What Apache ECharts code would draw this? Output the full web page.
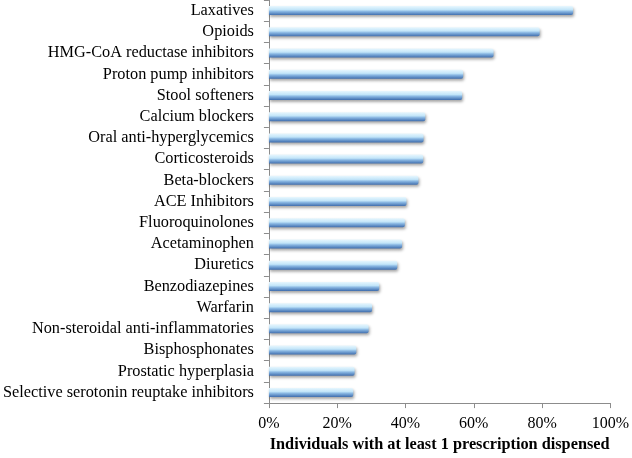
<!DOCTYPE html>
<html>
<head>
<meta charset="utf-8">
<script src="https://cdn.jsdelivr.net/npm/echarts@6/dist/echarts.min.js"></script>
<style>
html,body{margin:0;padding:0;background:#fff;}
#chart{width:632px;height:458px;}
</style>
</head>
<body>
<div id="chart"></div>
<script>
const categories = [
  "Laxatives",
  "Opioids",
  "HMG-CoA reductase inhibitors",
  "Proton pump inhibitors",
  "Stool softeners",
  "Calcium blockers",
  "Oral anti-hyperglycemics",
  "Corticosteroids",
  "Beta-blockers",
  "ACE Inhibitors",
  "Fluoroquinolones",
  "Acetaminophen",
  "Diuretics",
  "Benzodiazepines",
  "Warfarin",
  "Non-steroidal anti-inflammatories",
  "Bisphosphonates",
  "Prostatic hyperplasia",
  "Selective serotonin reuptake inhibitors"
];
const values = [89.1, 79.3, 65.8, 56.9, 56.6, 45.8, 45.3, 45.2, 43.8, 40.3, 39.8, 39.0, 37.6, 32.3, 30.2, 29.2, 25.6, 25.1, 24.7];
const xTicks = [0, 20, 40, 60, 80, 100];
const xTitle = "Individuals with at least 1 prescription dispensed";

const FONT = "Liberation Serif";
const chart = echarts.init(document.getElementById('chart'), null, {renderer: 'canvas'});
chart.setOption({
  animation: false,
  backgroundColor: '#ffffff',
  grid: {left: 267, right: 19, top: 0, bottom: 51, containLabel: false},
  xAxis: {
    type: 'value',
    min: xTicks[0],
    max: xTicks[xTicks.length - 1],
    interval: xTicks[1] - xTicks[0],
    splitLine: {show: false},
    axisLine: {show: true, lineStyle: {color: '#8c8c8c', width: 1}},
    axisTick: {show: true, length: 5, lineStyle: {color: '#8c8c8c'}},
    axisLabel: {formatter: '{value}%', fontFamily: FONT, fontSize: 16, color: '#000', margin: 13},
    name: xTitle,
    nameLocation: 'middle',
    nameGap: 33,
    nameTextStyle: {fontFamily: FONT, fontSize: 16.3, fontWeight: 'bold', color: '#000'}
  },
  yAxis: {
    type: 'category',
    data: categories,
    inverse: true,
    axisLine: {show: true, lineStyle: {color: '#8c8c8c', width: 1}},
    axisTick: {show: true, length: 5, lineStyle: {color: '#8c8c8c'}},
    axisLabel: {fontFamily: FONT, fontSize: 16.3, color: '#000', margin: 15, interval: 0}
  },
  series: [{
    type: 'bar',
    data: values,
    barWidth: 9,
    itemStyle: {
      color: new echarts.graphic.LinearGradient(0, 0, 0, 1, [
        {offset: 0, color: '#e8f7fe'},
        {offset: 0.4, color: '#c2e5f9'},
        {offset: 0.6, color: '#88b6e2'},
        {offset: 1, color: '#3f6dad'}
      ]),
      borderRadius: [0, 2, 2, 0],
      shadowColor: 'rgba(0,0,0,0.35)',
      shadowBlur: 3,
      shadowOffsetX: 1,
      shadowOffsetY: 2
    }
  }]
});
</script>
</body>
</html>
